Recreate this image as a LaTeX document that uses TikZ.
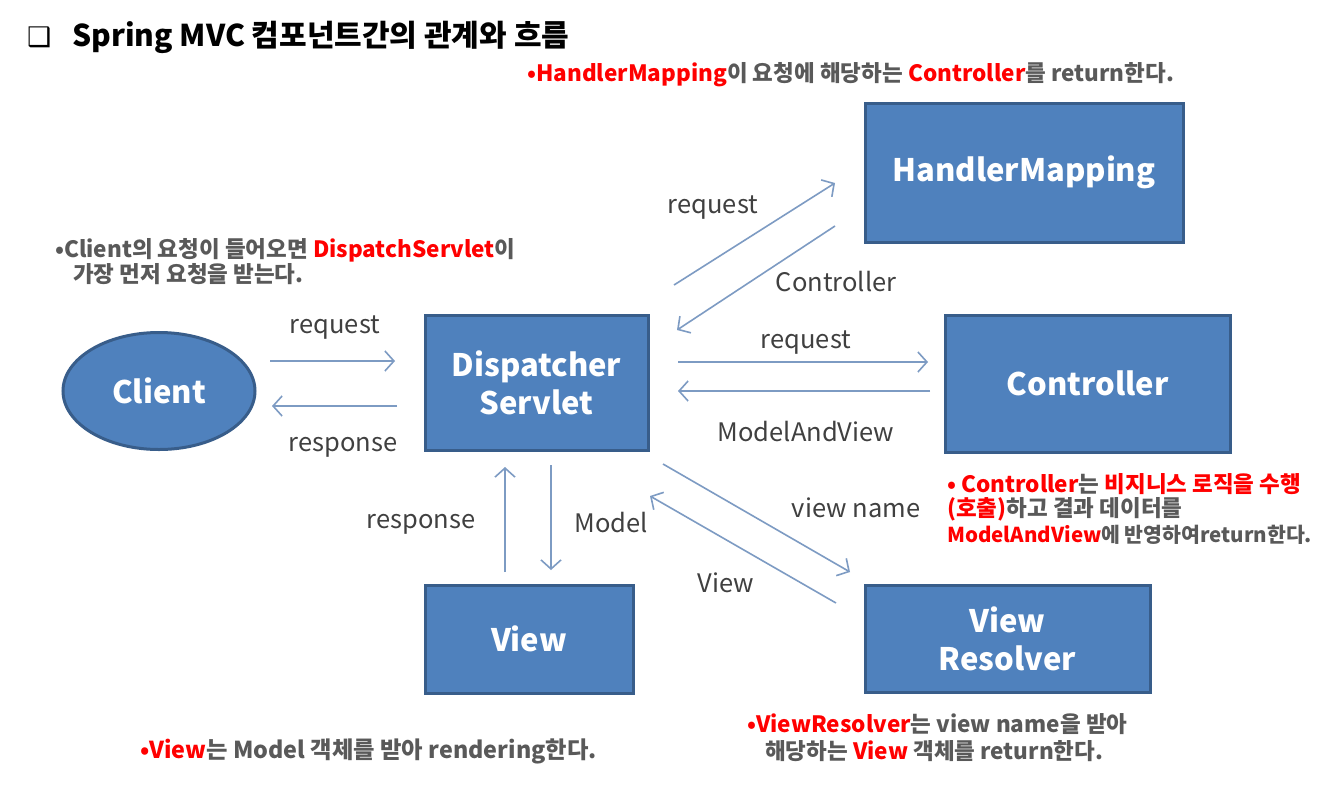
\documentclass[tikz,border=0pt]{standalone}
\usepackage{fontspec}
\setmainfont{Noto Sans CJK KR}
\newfontfamily\symfont{DejaVu Sans}
\usetikzlibrary{arrows.meta,shapes.geometric}
\definecolor{boxfill}{RGB}{79,129,189}
\definecolor{boxline}{RGB}{56,93,138}
\definecolor{redtxt}{RGB}{255,0,0}
\definecolor{graytxt}{RGB}{89,89,89}
\definecolor{labtxt}{RGB}{64,64,64}
\definecolor{arrcol}{RGB}{125,155,195}
\newcommand{\rd}[1]{\textcolor{redtxt}{#1}}
\tikzset{
  blk/.style={draw=boxline, line width=3pt, fill=boxfill, text=white,
    font=\fontsize{31}{38}\selectfont\bfseries, align=center, inner sep=0pt},
  ell/.style={blk, ellipse},
  arr/.style={draw=arrcol, line width=1.6pt,
    -{Straight Barb[length=9pt,width=20pt,line width=1.6pt]}},
  lab/.style={text=labtxt, font=\fontsize{25.5}{30}\selectfont, inner sep=0pt},
  note/.style={text=graytxt, font=\fontsize{22.5}{27}\selectfont\bfseries,
    inner sep=0pt, anchor=base west},
  ttl/.style={text=black, font=\fontsize{30}{36}\selectfont\bfseries,
    inner sep=0pt, anchor=base west}
}
\begin{document}
\begin{tikzpicture}[x=1pt,y=-1pt]
\useasboundingbox[fill=white] (0,0) rectangle (1333,788);

% title
\node[ttl] (tbul) at (27,46) {\symfont\fontsize{27}{30}\selectfont ❑};
\node[ttl] (title) at (72,46) {Spring MVC 컴포넌트간의 관계와 흐름};

% boxes
\node[blk, minimum width=318pt, minimum height=139pt] (hm) at (1024,172.5) {HandlerMapping};
\node[blk, minimum width=285pt, minimum height=137pt] (ctl) at (1087.5,383.5) {Controller};
\node[blk, minimum width=223pt, minimum height=135pt] (ds) at (536.5,382.5) {Dispatcher\\Servlet};
\node[ell, minimum width=192pt, minimum height=117pt] (cl) at (159,391) {Client};
\node[blk, minimum width=208pt, minimum height=108pt] (vw) at (529,639) {View};
\node[blk, minimum width=285pt, minimum height=107pt] (vr) at (1007.5,638.5) {View\\Resolver};

% connector end points
\coordinate (a1s) at (270,361);  \coordinate (a1e) at (395,361);
\coordinate (a2s) at (397,406);  \coordinate (a2e) at (272,406);
\coordinate (a3s) at (674,285);  \coordinate (a3e) at (835,183);
\coordinate (a4s) at (835,226);  \coordinate (a4e) at (677,330);
\coordinate (a5s) at (678,362);  \coordinate (a5e) at (928,362);
\coordinate (a6s) at (930,391);  \coordinate (a6e) at (678,391);
\coordinate (a7s) at (505,572);  \coordinate (a7e) at (505,467);
\coordinate (a8s) at (551,465);  \coordinate (a8e) at (551,570);
\coordinate (a9s) at (663,464);  \coordinate (a9e) at (850,572);
\coordinate (a10s) at (836,603); \coordinate (a10e) at (650,496);

\draw[arr] (a1s) -- (a1e);
\draw[arr] (a2s) -- (a2e);
\draw[arr] (a3s) -- (a3e);
\draw[arr] (a4s) -- (a4e);
\draw[arr] (a5s) -- (a5e);
\draw[arr] (a6s) -- (a6e);
\draw[arr] (a7s) -- (a7e);
\draw[arr] (a8s) -- (a8e);
\draw[arr] (a9s) -- (a9e);
\draw[arr] (a10s) -- (a10e);

% connector labels
\node[lab] (l1) at (335,328) {request};
\node[lab] (l2) at (343,447) {response};
\node[lab] (l3) at (713,208) {request};
\node[lab] (l4) at (836,282) {Controller};
\node[lab] (l5) at (806,343) {request};
\node[lab] (l6) at (806,432) {ModelAndView};
\node[lab] (l7) at (421,524) {response};
\node[lab] (l8) at (611,523) {Model};
\node[lab] (l9) at (856,508) {view name};
\node[lab] (l10) at (726,583) {View};

% notes
\node[note] (n1) at (527,81) {\rd{•HandlerMapping}이 요청에 해당하는 \rd{Controller}를 return한다.};
\node[note] (n2a) at (55,257) {•Client의 요청이 들어오면 \rd{DispatchServlet}이};
\node[note] (n2b) at (73,282) {가장 먼저 요청을 받는다.};
\node[note] (n3a) at (947,492) {\rd{• Controller}는 \rd{비지니스 로직을 수행}};
\node[note] (n3b) at (947,516) {\rd{(호출)}하고 결과 데이터를};
\node[note, font=\fontsize{20.5}{25}\selectfont\bfseries] (n3c) at (947,542) {\rd{ModelAndView}에 반영하여return한다.};
\node[note, font=\fontsize{23.3}{28}\selectfont\bfseries] (n4) at (140,758) {\rd{•View}는 Model 객체를 받아 rendering한다.};
\node[note] (n5a) at (747,732) {\rd{•ViewResolver}는 view name을 받아};
\node[note] (n5b) at (765,759) {해당하는 \rd{View} 객체를 return한다.};
\end{tikzpicture}
\end{document}
